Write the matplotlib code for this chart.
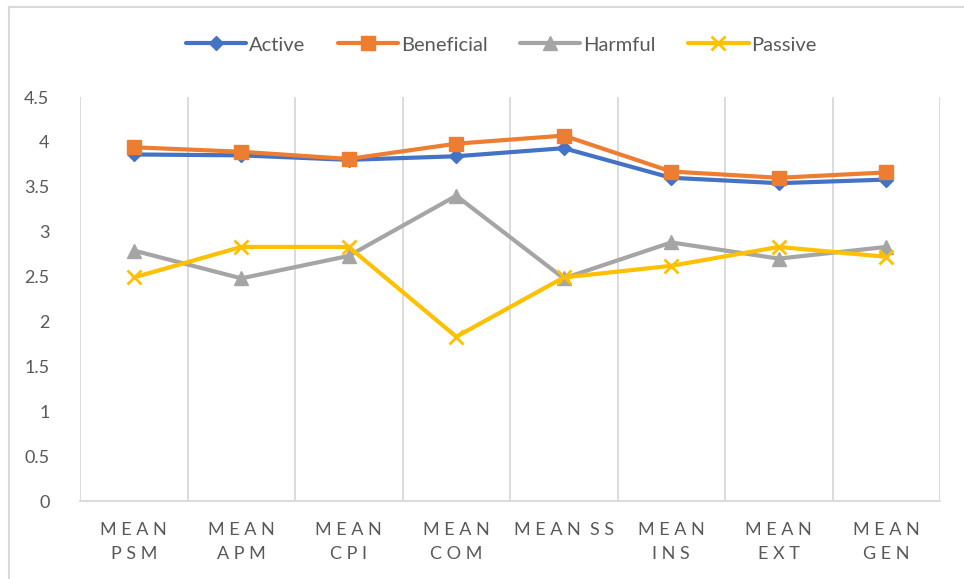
import matplotlib.pyplot as plt
from matplotlib.lines import Line2D

categories = ["MEAN\nPSM", "MEAN\nAPM", "MEAN\nCPI", "MEAN\nCOM",
              "MEAN SS", "MEAN\nINS", "MEAN\nEXT", "MEAN\nGEN"]
active = [3.86, 3.85, 3.80, 3.84, 3.93, 3.60, 3.54, 3.58]
beneficial = [3.94, 3.89, 3.81, 3.98, 4.07, 3.67, 3.60, 3.66]
harmful = [2.79, 2.48, 2.73, 3.40, 2.48, 2.88, 2.70, 2.83]
passive = [2.49, 2.83, 2.83, 1.83, 2.49, 2.62, 2.83, 2.72]
y_ticks = [0, 0.5, 1, 1.5, 2, 2.5, 3, 3.5, 4, 4.5]

plt.rcParams['font.family'] = ['Lato', 'DejaVu Sans']

fig = plt.figure(figsize=(9.64, 5.79), dpi=100)
ax = fig.add_axes([80 / 964, 1 - 501 / 579, 860 / 964, 404 / 579])

# chart border: only the left and top edges fall inside the image
fx, fy = 9 / 964, 1 - 7 / 579
fig.add_artist(Line2D([fx, fx], [0, fy], transform=fig.transFigure,
                      color="#d9d9d9", linewidth=1.5))
fig.add_artist(Line2D([fx, 1], [fy, fy], transform=fig.transFigure,
                      color="#d9d9d9", linewidth=1.5))

x = list(range(len(categories)))
series = [
    ("Active", active, "#4472c4", "D", 7),
    ("Beneficial", beneficial, "#ed7d31", "s", 10),
    ("Harmful", harmful, "#a5a5a5", "^", 10),
    ("Passive", passive, "#ffc000", "x", 10),
]
for name, vals, color, marker, ms in series:
    ax.plot(x, vals, color=color, linewidth=3, marker=marker, markersize=ms,
            markeredgewidth=2 if marker == "x" else 1, markeredgecolor=color,
            label=name, solid_capstyle="round")

ax.set_xlim(-0.5, len(categories) - 0.5)
ax.set_ylim(0, 4.5)
ax.set_yticks(y_ticks)
ax.set_yticklabels([f"{t:g}" for t in y_ticks], fontsize=13, color="#595959")

# vertical gridlines at category boundaries
for b in range(len(categories) + 1):
    ax.axvline(b - 0.5, color="#d9d9d9", linewidth=1.3, zorder=0)

ax.set_xticks(x)
spaced = ["\n".join(" ".join(line) if line != "MEAN SS" else "M E A N  S S"
                    for line in c.split("\n")) for c in categories]
ax.set_xticklabels(spaced, fontsize=13, color="#595959", linespacing=1.65)
ax.tick_params(axis="both", length=0)
ax.tick_params(axis="x", pad=15)
ax.tick_params(axis="y", pad=22)

for side in ["top", "right", "left"]:
    ax.spines[side].set_visible(False)
ax.spines["bottom"].set_color("#d9d9d9")
ax.spines["bottom"].set_linewidth(1.3)

fig.legend(loc="center", bbox_to_anchor=(0.52, 1 - 45 / 579), ncol=4,
           frameon=False, fontsize=14.5, handlelength=3, handletextpad=0.15,
           columnspacing=1.6, labelcolor="#595959")

fig.savefig("out.png", dpi=100)
